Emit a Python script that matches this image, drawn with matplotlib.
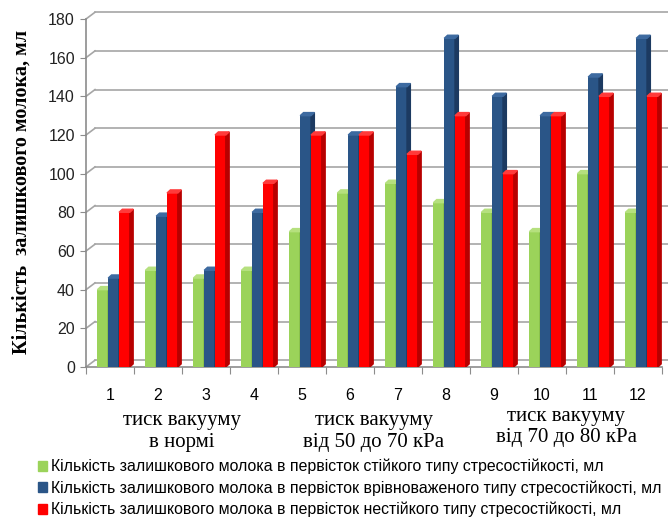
import numpy as np
import matplotlib.pyplot as plt
from matplotlib.patches import Polygon, Patch

# Data
groups = [str(i) for i in range(1, 13)]
stiikyi = [40, 50, 46, 50, 70, 90, 95, 85, 80, 70, 100, 80]
vrivnovazhenyi = [46, 78, 50, 80, 130, 120, 145, 170, 140, 130, 150, 170]
nestiikyi = [80, 90, 120, 95, 120, 120, 110, 130, 100, 130, 140, 140]
series_labels = [
    'Кількість залишкового молока в первісток стійкого типу стресостійкості, мл',
    'Кількість залишкового молока в первісток врівноваженого типу стресостійкості, мл',
    'Кількість залишкового молока в первісток нестійкого типу стресостійкості, мл',
]
pressure_labels = ['тиск вакууму\nв нормі', 'тиск вакууму\nвід 50 до 70 кРа', 'тиск вакууму\nвід 70 до 80 кРа']
yticks = list(range(0, 181, 20))

front_colors = ['#9BD35A', '#2A5587', '#FF0000']
side_colors = ['#7AAF3E', '#1C3A61', '#B80000']
top_colors = ['#B5E07E', '#3D6AA0', '#FF3A3A']

fig = plt.figure(figsize=(6.68, 5.19), dpi=100)
ax = fig.add_axes([86 / 668, 1 - 367 / 519, 576 / 668, 348 / 519])
ax.set_xlim(0.5, 12.5)
ax.set_ylim(0, 180)

x = np.arange(1, 13)
w = 0.225
offsets = [-0.15, 0.075, 0.30]
d = 0.07      # depth of bar side (x units)
dy = 1.6      # depth of bar top (y units)

# Gridlines with a small 3D wall
gd = 9 / 48
gy = 3.5
for v in yticks:
    ax.plot([0.5, 0.5 + gd], [v, v + gy], color='#A6A6A6', lw=1.2, clip_on=False, zorder=1)
    ax.plot([0.5 + gd, 12.5 + gd], [v + gy, v + gy], color='#A6A6A6', lw=1.2, clip_on=False, zorder=1)

# 3D-like bars
for k, vals in enumerate([stiikyi, vrivnovazhenyi, nestiikyi]):
    for xi, v in zip(x, vals):
        x0 = xi + offsets[k] - w / 2
        z = 3 + k
        ax.bar(x0, v, width=w, align='edge', color=front_colors[k], zorder=z)
        side = Polygon([(x0 + w, 0), (x0 + w + d, dy), (x0 + w + d, v + dy), (x0 + w, v)],
                       closed=True, color=side_colors[k], zorder=z)
        top = Polygon([(x0, v), (x0 + d, v + dy), (x0 + w + d, v + dy), (x0 + w, v)],
                      closed=True, color=top_colors[k], zorder=z)
        ax.add_patch(side)
        ax.add_patch(top)

# Axes
for s in ['top', 'right']:
    ax.spines[s].set_visible(False)
ax.spines['left'].set_color('#8C8C8C')
ax.spines['bottom'].set_color('#8C8C8C')
ax.spines['left'].set_linewidth(1.2)
ax.spines['bottom'].set_linewidth(1.2)

ax.set_yticks(yticks)
ax.set_yticklabels([str(v) for v in yticks], fontsize=11.5, color='#222222', family='Liberation Sans')
ax.tick_params(axis='y', length=4, color='#8C8C8C', pad=4)

ax.set_xticks(np.arange(0.5, 12.6, 1))
ax.set_xticklabels([])
ax.tick_params(axis='x', length=5, color='#8C8C8C')
for xi, g in zip(x, groups):
    ax.text(xi, -15, g, ha='center', va='center', fontsize=11.5, family='Liberation Sans')

for i, lab in enumerate(pressure_labels):
    ax.text(2.5 + 4 * i, -33.5 + (2.5 if i == 2 else 0), lab, ha='center', va='center',
            fontsize=15, family='Liberation Serif', linespacing=1.2)

fig.text(22 / 668, 1 - 192 / 519, 'Кількість  залишкового молока, мл', rotation=90,
         ha='center', va='center', fontsize=14.5, fontweight='bold', family='Liberation Serif')

# Legend
handles = [Patch(color=c) for c in front_colors]
fig.legend(handles, series_labels, loc='lower left', bbox_to_anchor=(30 / 668, -0.012),
           frameon=False, prop={'family': 'Liberation Sans', 'size': 11.45},
           handlelength=0.6, handleheight=0.6, handletextpad=0.25, labelspacing=0.38,
           borderpad=0.3, borderaxespad=0.2)

plt.savefig('out.png', dpi=100)
